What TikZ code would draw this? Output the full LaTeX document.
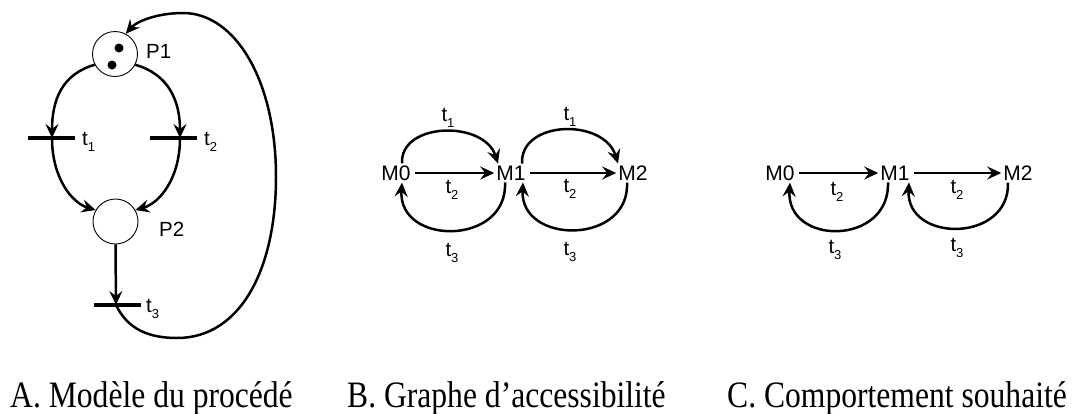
\documentclass[tikz,border=0pt]{standalone}
\usepackage{fontspec}
\setmainfont{Liberation Sans}
\newfontfamily\capfont{Liberation Serif}
\usetikzlibrary{arrows.meta}
\newcommand{\tl}[1]{t\raisebox{-0.32em}{\fontsize{13}{13}\selectfont #1}}
\newcommand{\captext}[1]{\scalebox{1}[1.18]{#1}}
\begin{document}
\begin{tikzpicture}[x=1pt,y=-1pt,
  arr/.style={line width=2.5pt, -{Stealth[length=14pt,width=13pt,inset=5pt]}},
  place/.style={circle, draw, line width=0.9pt, minimum size=45pt, inner sep=0pt},
  trans/.style={fill=black, minimum width=47pt, minimum height=4pt, inner sep=0pt},
  lbl/.style={font=\fontsize{20.5}{24}\selectfont, inner sep=0pt},
  state/.style={font=\fontsize{21}{24}\selectfont, inner sep=2pt},
  captxt/.style={font=\capfont\fontsize{31.6}{34}\selectfont, inner sep=0pt, anchor=base west},
  tok/.style={circle, fill=black, minimum size=9pt, inner sep=0pt}]
\useasboundingbox (0,0) rectangle (1080,413);

% ---------- A. Petri net ----------
\node[place] (P1) at (115,54) {};
\node[tok] (k1) at (119,48) {};
\node[tok] (k2) at (112,65) {};
\node[place] (P2) at (115.5,221.5) {};
\node[trans] (T1) at (51,138) {};
\node[trans] (T2) at (173.5,138) {};
\node[trans] (T3) at (117,305) {};
\node[lbl, anchor=west] (LP1) at (146,51) {P1};
\node[lbl, anchor=west] (LP2) at (159,229) {P2};
\node[lbl, anchor=west] (Lt1) at (82,142) {\tl{1}};
\node[lbl, anchor=west] (Lt2) at (204,142) {\tl{2}};
\node[lbl, anchor=west] (Lt3) at (146,309) {\tl{3}};

\draw[arr] (P1.208) .. controls (62,74) and (52,100) .. ([xshift=1pt]T1.center);
\draw[arr] ([xshift=1pt]T1.center) .. controls (52,178) and (72,203) .. (P2.150);
\draw[arr] (P1.-28) .. controls (168,74) and (180,100) .. ([xshift=6.5pt]T2.center);
\draw[arr] ([xshift=6.5pt]T2.center) .. controls (180,178) and (160,203) .. (P2.30);
\draw[arr] (P2.south) -- ([xshift=-1pt]T3.center);
\draw[arr] ([xshift=-1pt]T3.center) .. controls (128,330) and (150,338) .. (177,338)
  .. controls (240,338) and (276,270) .. (276,177)
  .. controls (276,80) and (235,13) .. (183,13)
  .. controls (158,13) and (137,21) .. (P1.62);

% ---------- B. Graphe d'accessibilite ----------
\node[state] (M0B) at (396,173) {M0};
\node[state] (M1B) at (511,173) {M1};
\node[state] (M2B) at (633,173) {M2};
\draw[arr, shorten <=2pt] (M0B) -- (M1B);
\draw[arr, shorten <=2pt] (M1B) -- (M2B);
\draw[arr] ([xshift=6pt]M0B.north) .. controls (400,122) and (484,120) .. ([xshift=-13pt]M1B.north);
\draw[arr] ([xshift=11pt]M1B.north) .. controls (520,120) and (604,118) .. ([xshift=-15pt]M2B.north);
\draw[arr] ([xshift=-6pt]M1B.south) .. controls (508,246) and (398,246) .. ([xshift=6pt]M0B.south);
\draw[arr] ([xshift=-6pt]M2B.south) .. controls (630,245) and (520,245) .. ([xshift=12pt]M1B.south);
\node[lbl] (B11) at (448,118) {\tl{1}};
\node[lbl] (B12) at (570,117) {\tl{1}};
\node[lbl] (B21) at (452,190) {\tl{2}};
\node[lbl] (B22) at (570,189) {\tl{2}};
\node[lbl] (B31) at (452,253) {\tl{3}};
\node[lbl] (B32) at (570,252) {\tl{3}};

% ---------- C. Comportement souhaite ----------
\node[state] (M0C) at (780,173) {M0};
\node[state] (M1C) at (895,173) {M1};
\node[state] (M2C) at (1018,173) {M2};
\draw[arr, shorten <=2pt] (M0C) -- (M1C);
\draw[arr, shorten <=2pt] (M1C) -- (M2C);
\draw[arr] ([xshift=-7pt]M1C.south) .. controls (890,246) and (786,246) .. ([xshift=10pt]M0C.south);
\draw[arr] ([xshift=-10pt]M2C.south) .. controls (1010,243) and (906,243) .. ([xshift=14pt]M1C.south);
\node[lbl] (C21) at (837,192) {\tl{2}};
\node[lbl] (C22) at (957,190) {\tl{2}};
\node[lbl] (C31) at (835,250) {\tl{3}};
\node[lbl] (C32) at (957,248) {\tl{3}};

% ---------- captions ----------
\node[captxt] (CA) at (10,407) {\captext{A. Modèle du procédé}};
\node[captxt] (CB) at (347,407) {\captext{B. Graphe d’accessibilité}};
\node[captxt] (CC) at (727,407) {\captext{C. Comportement souhaité}};
\end{tikzpicture}
\end{document}
